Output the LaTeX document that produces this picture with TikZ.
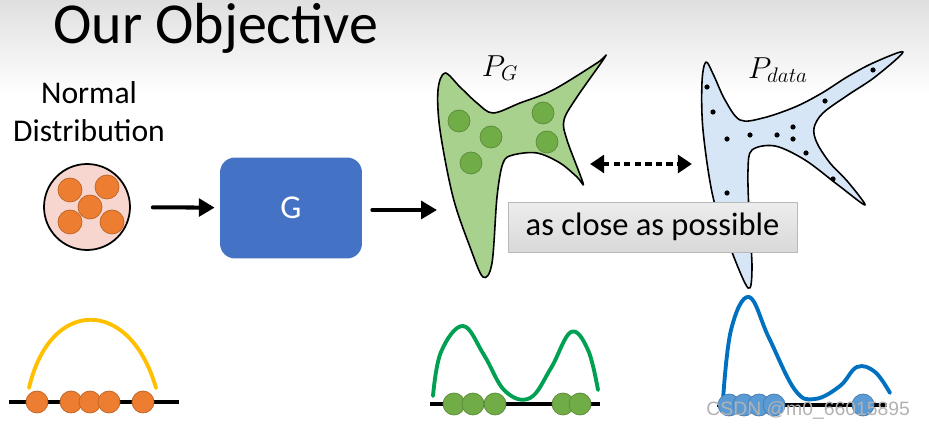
\documentclass[tikz,border=0pt]{standalone}
\usepackage{fontspec}
\setmainfont{Carlito}
\newfontfamily\markfont{Liberation Sans}
\usetikzlibrary{arrows.meta}

\begin{document}
\begin{tikzpicture}[x=0.02cm, y=-0.02cm, line cap=round, line join=round,
  flow/.style={line width=2.3pt, -{Triangle[length=9pt,width=10pt]}},
  closeness/.style={line width=2.6pt, line cap=butt, dash pattern=on 3.5pt off 2.5pt,
    {Triangle[length=8pt,width=10pt]}-{Triangle[length=8pt,width=10pt]}},
  blob/.style={draw=black, line width=0.9pt},
  bead/.style={fill=#1, draw=#1!80!black, line width=0.4pt},
  density/.style={line width=2.2pt, draw=#1},
  axis/.style={line width=2.2pt, line cap=butt}]
  \definecolor{pinkfill}{RGB}{248,214,208}
  \definecolor{dotorange}{RGB}{237,125,49}
  \definecolor{genblue}{RGB}{68,114,196}
  \definecolor{pgfill}{RGB}{169,209,142}
  \definecolor{pgdot}{RGB}{112,173,71}
  \definecolor{pdfill}{RGB}{214,230,246}
  \definecolor{boxgray}{RGB}{212,212,212}
  \definecolor{sunyellow}{RGB}{255,192,0}
  \definecolor{curvegreen}{RGB}{0,160,82}
  \definecolor{curveblue}{RGB}{0,112,192}
  \definecolor{beadblue}{RGB}{91,155,213}
  \useasboundingbox (0,0) rectangle (929,428);
  \shade[top color=gray!25, bottom color=white] (0,0) rectangle (929,95);

  \node[anchor=base west, font=\fontsize{33}{40}\selectfont] (title) at (47,44) {Our Objective};
  \node[align=center, font=\fontsize{18}{21.5}\selectfont] (normlbl) at (89,112) {Normal\\Distribution};

  % input noise
  \node[circle, draw, line width=1pt, fill=pinkfill, minimum size=1.72cm] (normal) at (87,207) {};
  \foreach \px/\py in {70/190,107/187,90/207,70/222,112/222}
    \filldraw[bead=dotorange] (\px,\py) circle (12);

  % generator
  \node[rounded corners=0.3cm, fill=genblue, minimum width=2.84cm, minimum height=2.02cm,
    text=white, font=\fontsize{19}{22}\selectfont] (gen) at (291,208) {G};
  \coordinate (pgin) at (437,210);
  \draw[flow, shorten <=0.44cm, shorten >=0.1cm] (normal) -- (gen);
  \draw[flow, shorten <=0.2cm] (gen.east |- pgin) -- (pgin);

  % generated distribution
  \draw[blob, fill=pgfill] plot[smooth cycle, tension=0.55] coordinates {
    (445,73) (438,90) (440,130) (453,197) (470,247) (483,277) (492,263) (497,197)
    (503,163) (513,155) (537,153) (560,163) (577,177) (583,183) (567,140) (564,120)
    (577,97) (605,57) (597,63) (553,90) (520,103) (493,113) (477,103) (460,87)};
  \foreach \px/\py in {459/121,491/137,471/163,543/113,547/142}
    \filldraw[bead=pgdot] (\px,\py) circle (11);
  \node[font=\fontsize{17}{20}\selectfont] (pglbl) at (500,68) {$P_G$};

  % data distribution
  \draw[blob, fill=pdfill] plot[smooth cycle, tension=0.55] coordinates {
    (706,62) (702,82) (703,130) (713,197) (730,247) (748,288) (752,268) (749,213)
    (748,170) (752,150) (775,146) (805,160) (838,185) (865,205) (848,182) (830,163)
    (817,143) (814,128) (823,113) (848,95) (875,77) (903,52) (873,63) (847,77)
    (822,93) (795,107) (763,118) (740,120) (725,100) (714,76)};
  \foreach \px/\py in {707/87,713/112,727/139,750/135,777/135,793/127,793/139,
      806/153,825/101,873/70,833/179,727/193}
    \fill (\px,\py) circle (2.6);
  \node[font=\fontsize{17}{20}\selectfont] (pdlbl) at (778,70) {$P_{data}$};

  \coordinate (pgtip) at (590,164);
  \coordinate (pdedge) at (692,164);
  \draw[closeness] (pgtip) -- (pdedge);
  \node[top color=gray!14, bottom color=gray!30, draw=gray!55, minimum width=5.78cm,
    minimum height=1cm, font=\fontsize{18.5}{22}\selectfont] (close) at (652.5,227) {as close as possible};

  % 1-d views
  \draw[axis] (9,402) -- (179,402);
  \draw[density=sunyellow] (29,388) .. controls (50,297) and (130,297) .. (156,388);
  \foreach \px in {37,71,90,109,143}
    \filldraw[bead=dotorange] (\px,402) circle (11);

  \draw[axis] (430,404) -- (600,404);
  \draw[density=curvegreen] plot[smooth, tension=0.65] coordinates {
    (433,396) (441,352) (463,326) (484,355) (505,391) (530,398) (551,368) (571,332) (588,350) (598,390)};
  \foreach \px in {454,473,495,563,580}
    \filldraw[bead=pgdot] (\px,404) circle (11);

  \draw[axis] (717,405) -- (887,405);
  \draw[density=curveblue] plot[smooth, tension=0.65] coordinates {
    (723,400) (731,330) (749,297) (769,338) (795,390) (815,399) (840,386) (857,367) (875,372) (890,393)};
  \foreach \px in {729,744,759,774,863}
    \filldraw[bead=beadblue] (\px,405) circle (11);

  \node[anchor=east, text=gray!60, font=\markfont\fontsize{11}{13}\selectfont] (mark) at (916,410) {CSDN @m0\_66015895};
\end{tikzpicture}
\end{document}
